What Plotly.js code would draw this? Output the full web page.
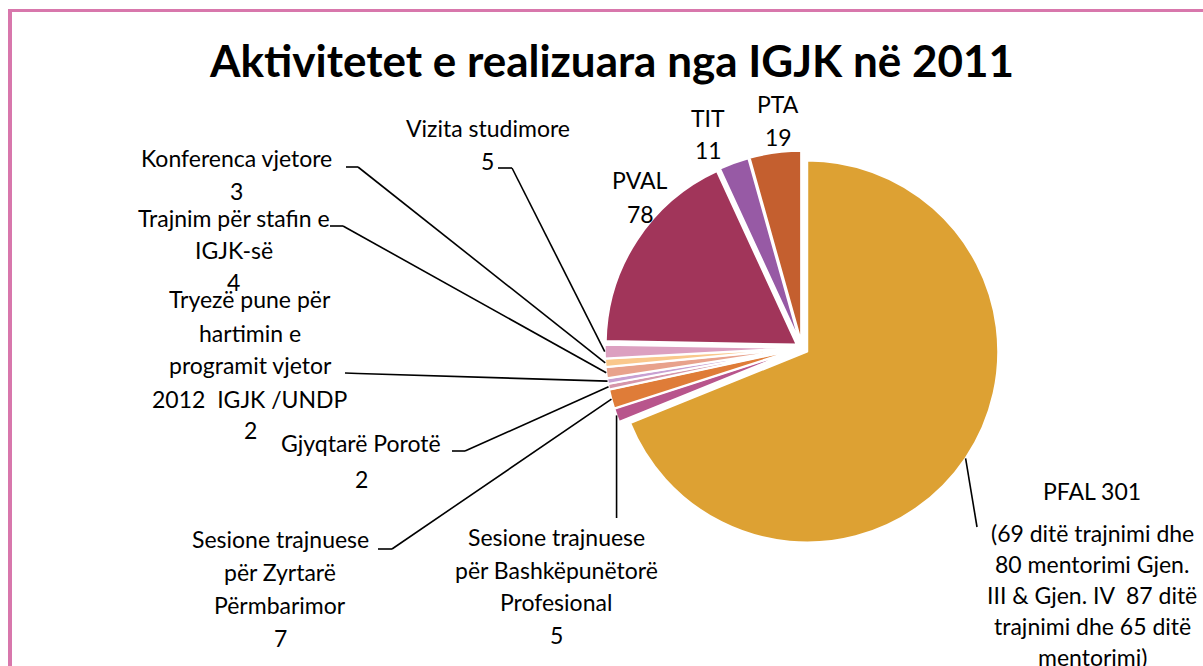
<!DOCTYPE html>
<html>
<head>
<meta charset="utf-8">
<script src="https://cdn.plot.ly/plotly-3.0.1.min.js"></script>
<style>html,body{margin:0;padding:0;background:#fff;}#chart{width:1203px;height:666px;}</style>
</head>
<body>
<div id="chart"></div>
<script>
// ---- data ----
const chartTitle = "Aktivitetet e realizuara nga IGJK në 2011";
const categories = [
  "PFAL",
  "Sesione trajnuese për Bashkëpunëtorë Profesional",
  "Sesione trajnuese për Zyrtarë Përmbarimor",
  "Gjyqtarë Porotë",
  "Tryezë pune për hartimin e programit vjetor 2012 IGJK /UNDP",
  "Trajnim për stafin e IGJK-së",
  "Konferenca vjetore",
  "Vizita studimore",
  "PVAL",
  "TIT",
  "PTA"
];
const values = [301, 5, 7, 2, 2, 4, 3, 5, 78, 11, 19];
const labelLines = [
  ["PFAL 301", "(69 ditë trajnimi dhe", "80 mentorimi Gjen.", "III & Gjen. IV  87 ditë", "trajnimi dhe 65 ditë", "mentorimi)"],
  ["Sesione trajnuese", "për Bashkëpunëtorë", "Profesional", "5"],
  ["Sesione trajnuese", "për Zyrtarë", "Përmbarimor", "7"],
  ["Gjyqtarë Porotë", "2"],
  ["Tryezë pune për", "hartimin e", "programit vjetor", "2012  IGJK /UNDP", "2"],
  ["Trajnim për stafin e", "IGJK-së", "4"],
  ["Konferenca vjetore", "3"],
  ["Vizita studimore", "5"],
  ["PVAL", "78"],
  ["TIT", "11"],
  ["PTA", "19"]
];
const colors = ["#DDA133", "#B8558C", "#DF7C38", "#D696AA", "#C8A0D2", "#E8A28C",
                "#FAC88C", "#DCA0C0", "#A1355A", "#975AA5", "#C45F2F"];

// ---- layout (pixels) ----
const W = 1203, H = 666;
const CX = 802, CY = 348, R = 191, PULL = 0.033;
const FONT = "Lato, 'Open Sans', sans-serif";
const FS = 23;
// label placement: x center, baseline of each line
const labelPos = [
  {x: 1092, base: [499, 541, 572, 603, 634, 665]},
  {x: 556, base: [545, 578, 610, 643]},
  {x: 280, base: [547, 580, 613, 646]},
  {x: 361, base: [451, 487]},
  {x: 250, base: [307, 341, 373, 407, 438]},
  {x: 234, base: [226, 258, 290]},
  {x: 236, base: [166, 199]},
  {x: 488, base: [136, 169]},
  {x: 640, base: [188, 222]},
  {x: 708, base: [126, 158]},
  {x: 778, base: [112, 145]}
];
// leader line label-side points (null = no leader)
const leaderStart = [
  [[977, 527]],
  "vertical518",
  [[378, 549], [392, 549]],
  [[452, 451], [465, 451]],
  [[345, 373], [358, 373.5]],
  [[330, 226], [343, 226]],
  [[346, 167], [358, 167]],
  [[498, 168], [512, 168]],
  null, null, null
];

const px = x => x / W;
const py = y => 1 - y / H;

const half = R * (1 + PULL);
const domain = {
  x: [px(CX - half), px(CX + half)],
  y: [py(CY + half), py(CY - half)]
};

const total = values.reduce((a, b) => a + b, 0);
let cum = 0;
const midAngles = values.map(v => { const m = (cum + v / 2) / total * 2 * Math.PI; cum += v; return m; });

const shapes = [];
const line = (x0, y0, x1, y1) => shapes.push({type: "line", xref: "paper", yref: "paper",
  x0: px(x0), y0: py(y0), x1: px(x1), y1: py(y1), line: {color: "#000", width: 1.6}});

midAngles.forEach((a, i) => {
  const ls = leaderStart[i];
  if (!ls) return;
  const ex = CX + Math.sin(a) * (R + R * PULL);
  const ey = CY - Math.cos(a) * (R + R * PULL);
  if (ls === "vertical518") { line(ex, ey, ex, 518); return; }
  const pts = ls.concat([[ex, ey]]);
  for (let k = 0; k < pts.length - 1; k++) line(pts[k][0], pts[k][1], pts[k + 1][0], pts[k + 1][1]);
});

// border
shapes.push({type: "line", xref: "paper", yref: "paper", x0: px(10), x1: px(10), y0: 0, y1: py(9), line: {color: "#D877AC", width: 4}});
shapes.push({type: "line", xref: "paper", yref: "paper", x0: px(8), x1: 1, y0: py(10.5), y1: py(10.5), line: {color: "#D877AC", width: 3}});

const annotations = [];
labelLines.forEach((lines, i) => {
  lines.forEach((t, k) => {
    annotations.push({text: t, xref: "paper", yref: "paper", x: px(labelPos[i].x),
      y: py(labelPos[i].base[k] - 0.34 * FS), xanchor: "center", yanchor: "middle",
      showarrow: false, font: {family: FONT, size: FS, color: "#000"}});
  });
});

const trace = {
  type: "pie", values: values, labels: categories, sort: false, direction: "clockwise",
  rotation: 0, pull: values.map(() => PULL), textinfo: "none", hoverinfo: "label+value",
  marker: {colors: colors, line: {color: "#ffffff", width: 2}}, domain: domain, showlegend: false
};

const layout = {
  width: W, height: H, margin: {l: 0, r: 0, t: 0, b: 0},
  paper_bgcolor: "#fff", plot_bgcolor: "#fff", showlegend: false,
  title: {text: chartTitle, x: px(612), xanchor: "center", y: py(62), yanchor: "middle",
    font: {family: FONT, size: 44, weight: "bold", color: "#000"}},
  shapes: shapes, annotations: annotations
};

Plotly.newPlot("chart", [trace], layout, {displayModeBar: false, staticPlot: true});
</script>
</body>
</html>
